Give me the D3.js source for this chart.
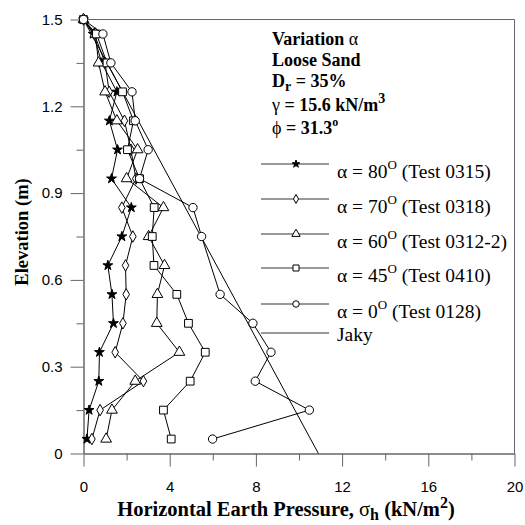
<!DOCTYPE html>
<html>
<head>
<meta charset="utf-8">
<script src="https://cdn.jsdelivr.net/npm/d3@7"></script>
<style>
  body { margin: 0; background: #fff; }
  .axis text { font-family: "Liberation Sans", Arial, sans-serif; font-size: 15px; fill: #000; }
  .axis path, .axis line { stroke: #666; }
  .serif { font-family: "Liberation Serif", "Times New Roman", serif; fill: #000; }
</style>
</head>
<body>
<div id="chart"></div>
<script>

// elevations (m) of the pressure cells, top to bottom
var elevations = [1.5, 1.45, 1.35, 1.25, 1.15, 1.05, 0.95, 0.85, 0.75, 0.65, 0.55, 0.45, 0.35, 0.25, 0.15, 0.05];

// horizontal earth pressure (kN/m2) per test, same order as elevations
var alpha80 = [0, 0.45, 0.85, 1.55, 1.2, 1.58, 1.3, 2.22, 1.78, 1.13, 1.32, 1.39, 0.74, 0.71, 0.26, 0.16];
var alpha70 = [0, 0.5, 1.0, 1.19, 1.9, 2.2, 2.43, 1.78, 2.29, 1.95, 1.98, 1.83, 1.47, 2.78, 0.77, 0.39];
var alpha60 = [0, 0.55, 0.7, 1.0, 1.55, 2.51, 2.0, 3.71, 3.02, 3.76, 3.43, 3.40, 4.45, 2.4, 1.32, 1.05];
var alpha45 = [0, 0.6, 1.09, 1.81, 2.32, 2.04, 2.6, 3.28, 3.19, 3.27, 4.33, 4.87, 5.65, 4.95, 3.71, 4.07];
var alpha0  = [0, 0.9, 1.27, 2.25, 2.4, 3.0, 2.6, 5.08, 5.48, null, 6.34, 7.86, 8.7, 7.97, 10.48, 5.99];

// Jaky line end points [pressure, elevation]
var jaky = [[0, 1.5], [10.9, 0]];

var seriesNames = ["80", "70", "60", "45", "0"];
var testNames = ["Test 0315", "Test 0318", "Test 0312-2", "Test 0410", "Test 0128"];

var xTicks = [0, 4, 8, 12, 16, 20];
var xMinor = [2, 6, 10, 14, 18];
var yTicks = [0, 0.3, 0.6, 0.9, 1.2, 1.5];
var yMinor = [0.15, 0.45, 0.75, 1.05, 1.35];

var W = 525, H = 525;

var svg = d3.select("#chart").append("svg")
    .attr("width", W)
    .attr("height", H);

var x = d3.scaleLinear().domain([0, 20]).range([83.5, 514.5]);
var y = d3.scaleLinear().domain([0, 1.5]).range([453.5, 19.5]);

// axes
svg.append("g")
    .attr("class", "axis")
    .attr("transform", "translate(0," + y(0) + ")")
    .call(d3.axisBottom(x).tickValues(xTicks).tickSize(13).tickSizeOuter(0).tickPadding(15).tickFormat(d3.format("d")));
svg.append("g")
    .attr("class", "axis")
    .attr("transform", "translate(0," + y(0) + ")")
    .call(d3.axisBottom(x).tickValues(xMinor).tickSize(7).tickSizeOuter(0).tickFormat(""));

svg.append("g")
    .attr("class", "axis")
    .attr("transform", "translate(" + x(0) + ",0)")
    .call(d3.axisLeft(y).tickValues(yTicks).tickSize(13).tickSizeOuter(0).tickPadding(8).tickFormat(function(d) { return d === 0 ? "0" : d3.format(".1f")(d); }));
svg.append("g")
    .attr("class", "axis")
    .attr("transform", "translate(" + x(0) + ",0)")
    .call(d3.axisLeft(y).tickValues(yMinor).tickSize(7).tickSizeOuter(0).tickFormat(""));

// frame top/right
svg.append("path")
    .attr("d", "M" + x(0) + "," + y(1.5) + "H" + x(20) + "V" + y(0))
    .attr("fill", "none")
    .attr("stroke", "#666");

// axis titles
var xt = svg.append("text")
    .attr("class", "serif")
    .attr("x", 286)
    .attr("y", 516)
    .attr("text-anchor", "middle")
    .style("font-size", "20.5px")
    .style("font-weight", "bold");
xt.append("tspan").text("Horizontal Earth Pressure, ");
xt.append("tspan").style("font-weight", "normal").text("σ");
xt.append("tspan").attr("dy", 4).style("font-size", "16px").text("h");
xt.append("tspan").attr("dy", -4).text(" (kN/m");
xt.append("tspan").attr("dy", -8).style("font-size", "16px").text("2");
xt.append("tspan").attr("dy", 8).text(")");

svg.append("text")
    .attr("class", "serif")
    .attr("transform", "translate(28,232) rotate(-90)")
    .attr("text-anchor", "middle")
    .style("font-size", "18.5px")
    .style("font-weight", "bold")
    .text("Elevation (m)");

// series
var symbols = [d3.symbolStar, d3.symbolDiamond, d3.symbolTriangle, d3.symbolSquare, d3.symbolCircle];
var sizes = [30, 38, 50, 60, 55];
var fills = ["#000", "#fff", "#fff", "#fff", "#fff"];
var allSeries = [alpha80, alpha70, alpha60, alpha45, alpha0];

var line = d3.line()
    .x(function(d) { return x(d[0]); })
    .y(function(d) { return y(d[1]); });

// Jaky line
svg.append("path")
    .attr("d", line(jaky))
    .attr("fill", "none")
    .attr("stroke", "#000")
    .attr("stroke-width", 1);

allSeries.forEach(function(vals, i) {
    var pts = vals.map(function(v, j) { return [v, elevations[j]]; })
        .filter(function(d) { return d[0] !== null; });

    svg.append("path")
        .attr("d", line(pts))
        .attr("fill", "none")
        .attr("stroke", "#000")
        .attr("stroke-width", 1);

    svg.selectAll(null)
        .data(pts)
        .enter()
        .append("path")
        .attr("transform", function(d) { return "translate(" + x(d[0]) + "," + y(d[1]) + ")"; })
        .attr("d", d3.symbol().type(symbols[i]).size(sizes[i]))
        .attr("fill", fills[i])
        .attr("stroke", "#000")
        .attr("stroke-width", 1);
});

// info text
var info = svg.append("g").attr("class", "serif").style("font-size", "18px").style("font-weight", "bold");
var t1 = info.append("text").attr("x", 272).attr("y", 45);
t1.append("tspan").text("Variation ");
t1.append("tspan").style("font-weight", "normal").text("α");
info.append("text").attr("x", 272).attr("y", 66).text("Loose Sand");
var t3 = info.append("text").attr("x", 272).attr("y", 87);
t3.append("tspan").text("D");
t3.append("tspan").attr("dy", 4).style("font-size", "14px").text("r");
t3.append("tspan").attr("dy", -4).text(" = 35%");
var t4 = info.append("text").attr("x", 272).attr("y", 111);
t4.append("tspan").style("font-weight", "normal").text("γ");
t4.append("tspan").text(" = 15.6 kN/m");
t4.append("tspan").attr("dy", -8).style("font-size", "14px").text("3");
var t5 = info.append("text").attr("x", 272).attr("y", 134);
t5.append("tspan").style("font-weight", "normal").text("ϕ");
t5.append("tspan").text(" = 31.3");
t5.append("tspan").attr("dy", -8).style("font-size", "12px").text("o");

// legend
var legY = [164, 199, 234, 268, 304];
var legend = svg.append("g");
seriesNames.forEach(function(name, i) {
    var g = legend.append("g");
    g.append("line")
        .attr("x1", 261).attr("x2", 329)
        .attr("y1", legY[i]).attr("y2", legY[i])
        .attr("stroke", "#333");
    g.append("path")
        .attr("transform", "translate(296," + legY[i] + ")")
        .attr("d", d3.symbol().type(symbols[i]).size(sizes[i] * 0.6))
        .attr("fill", fills[i])
        .attr("stroke", "#000");
    var t = g.append("text")
        .attr("class", "serif")
        .attr("x", 337)
        .attr("y", legY[i] + 14)
        .style("font-size", "19.5px");
    t.append("tspan").text("α = " + name);
    t.append("tspan").attr("dy", -9).style("font-size", "13px").text("O");
    t.append("tspan").attr("dy", 9).text(" (" + testNames[i] + ")");
});
legend.append("line")
    .attr("x1", 261).attr("x2", 329)
    .attr("y1", 333).attr("y2", 333)
    .attr("stroke", "#333");
legend.append("text")
    .attr("class", "serif")
    .attr("x", 337)
    .attr("y", 341)
    .style("font-size", "19.5px")
    .text("Jaky");

</script>
</body>
</html>
